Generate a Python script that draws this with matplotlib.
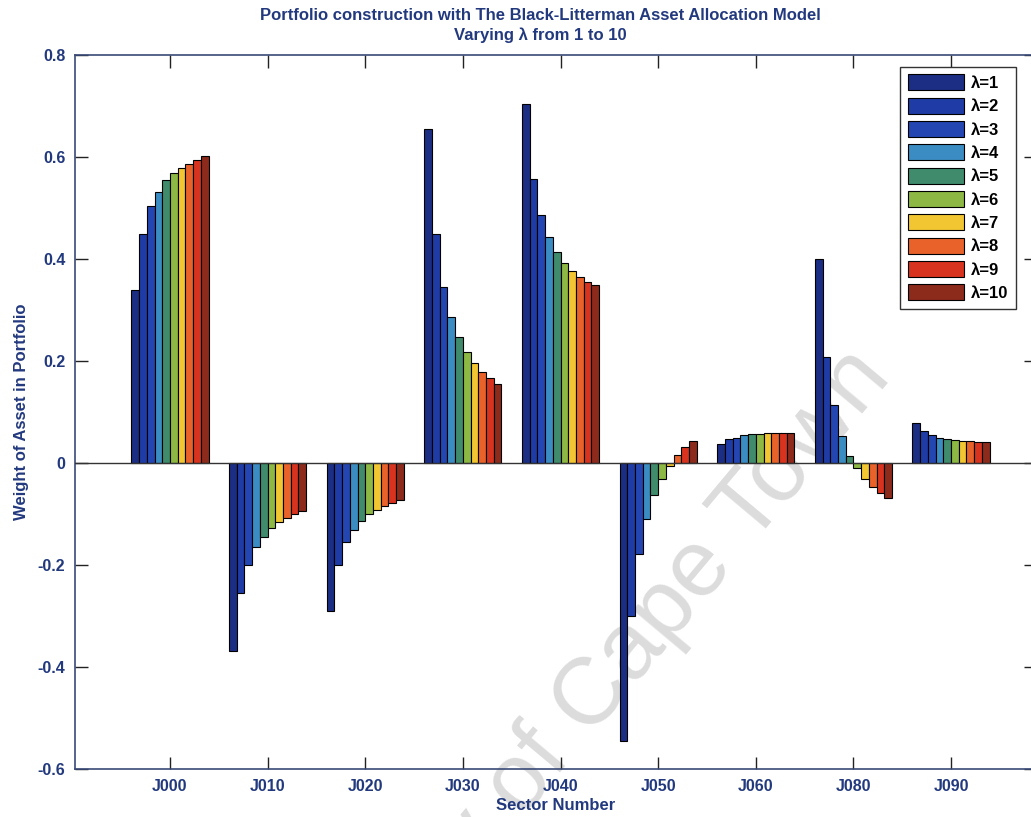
import numpy as np
import matplotlib
matplotlib.use('Agg')
import matplotlib.pyplot as plt

plt.rcParams['font.family'] = ['Liberation Sans', 'DejaVu Sans']
plt.rcParams['font.weight'] = 'bold'
plt.rcParams['axes.labelweight'] = 'bold'

# sectors and portfolio weights for lambda = 1..10
sectors = ['J000', 'J010', 'J020', 'J030', 'J040', 'J050', 'J060', 'J080', 'J090']
lambdas = [1, 2, 3, 4, 5, 6, 7, 8, 9, 10]

w_J000 = [0.340, 0.449, 0.504, 0.532, 0.555, 0.569, 0.580, 0.588, 0.595, 0.602]
w_J010 = [-0.369, -0.255, -0.200, -0.165, -0.144, -0.128, -0.115, -0.107, -0.100, -0.094]
w_J020 = [-0.290, -0.199, -0.154, -0.131, -0.113, -0.100, -0.091, -0.084, -0.078, -0.072]
w_J030 = [0.655, 0.449, 0.346, 0.287, 0.247, 0.219, 0.197, 0.178, 0.167, 0.156]
w_J040 = [0.705, 0.558, 0.487, 0.444, 0.415, 0.393, 0.377, 0.366, 0.356, 0.349]
w_J050 = [-0.545, -0.300, -0.178, -0.109, -0.063, -0.031, -0.006, 0.016, 0.031, 0.044]
w_J060 = [0.037, 0.047, 0.050, 0.056, 0.058, 0.058, 0.060, 0.060, 0.060, 0.060]
w_J080 = [0.400, 0.208, 0.114, 0.053, 0.015, -0.009, -0.030, -0.046, -0.059, -0.069]
w_J090 = [0.079, 0.063, 0.055, 0.050, 0.048, 0.046, 0.044, 0.043, 0.042, 0.042]

weights = np.array([w_J000, w_J010, w_J020, w_J030, w_J040, w_J050, w_J060, w_J080, w_J090])

colors = ['#1c2d84', '#1f3ca6', '#2346b2', '#3b8cc2', '#3f8b6c',
          '#8cb843', '#f2c532', '#e8622a', '#d8331f', '#8c2a1c']
txt = '#22397e'

W, H = 1031, 817
fig = plt.figure(figsize=(W/100, H/100), dpi=100)
ax = fig.add_axes([75/W, 1-769/H, (1036-75)/W, (769-55.5)/H])
ax.patch.set_alpha(0)

x = np.arange(1, len(sectors)+1)
bw = 0.079
for i, lam in enumerate(lambdas):
    ax.bar(x + (i-4.5)*bw, weights[:, i], width=bw, color=colors[i],
           edgecolor='black', linewidth=0.8, label='λ=%d' % lam, zorder=2)

ax.axhline(0, color='#333333', linewidth=1.0, zorder=3)

ax.set_xlim(0.027, 9.87)
ax.set_ylim(-0.6, 0.8)
ax.set_xticks(x)
ax.set_xticklabels(sectors)
ax.set_yticks(np.arange(-0.6, 0.81, 0.2))
ax.set_yticklabels(['-0.6', '-0.4', '-0.2', '0', '0.2', '0.4', '0.6', '0.8'])
ax.tick_params(direction='in', length=9, width=1, color='#222222', top=True, right=True,
               labelsize=11.5, labelcolor=txt, pad=7)
for sp in ax.spines.values():
    sp.set_color('#3a4a78')
    sp.set_linewidth(1.2)

ax.set_xlabel('Sector Number', fontsize=12, color=txt, labelpad=3)
ax.set_ylabel('Weight of Asset in Portfolio', fontsize=12, color=txt, labelpad=6)

fig.text(540/W, 1-16/H, 'Portfolio construction with The Black-Litterman Asset Allocation Model',
         ha='center', va='center', fontsize=12, color=txt)
fig.text(540/W, 1-35/H, 'Varying λ from 1 to 10', ha='center', va='center', fontsize=12, color=txt)

leg = ax.legend(loc='upper right', bbox_to_anchor=((1016-75)/(1036-75), 1-(67-55.5)/(769-55.5)),
                fontsize=12, handlelength=3.4, handleheight=1.1, labelspacing=0.4,
                handletextpad=0.4, borderpad=0.45, fancybox=False, framealpha=1,
                edgecolor='#333333', borderaxespad=0)
for t in leg.get_texts():
    t.set_color('black')

# watermark behind the bars
fig.text(893/W, 1-378/H, 'University of Cape Town', fontsize=68, color='#dcdcdc',
         rotation=50, rotation_mode='anchor', ha='right', va='baseline',
         fontweight='normal', zorder=-1)

fig.savefig('out.png', dpi=100)
